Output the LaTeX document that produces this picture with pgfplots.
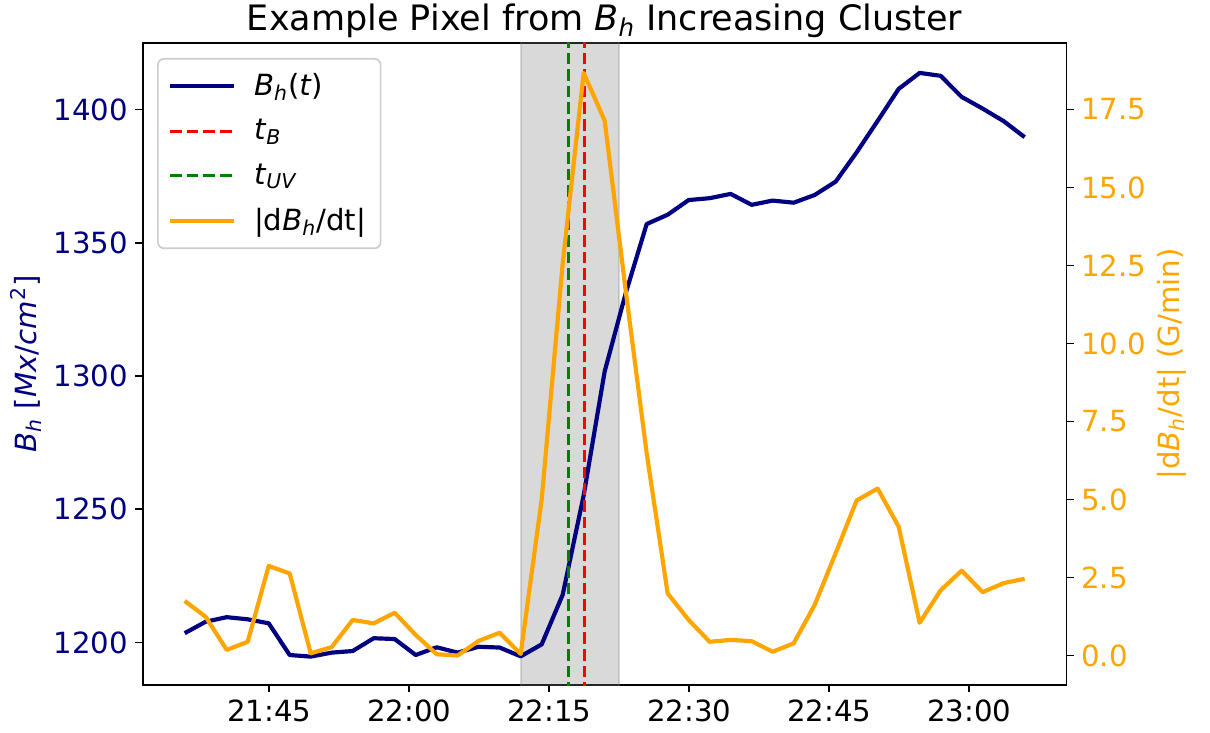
\documentclass[border=0pt]{standalone}
\usepackage{fontspec}
\setmainfont{DejaVu Sans}
\usepackage{pgfplots}
\usepackage{pgfplotstable}
\pgfplotsset{compat=1.18}
\definecolor{navy}{RGB}{0,0,128}
\definecolor{mplorange}{RGB}{255,165,0}
\definecolor{mplgreen}{RGB}{0,128,0}
\definecolor{mplred}{RGB}{255,0,0}
\definecolor{legedge}{RGB}{204,204,204}
\newcommand{\Bh}{\textit{B}\textsubscript{\textit{h}}}
\newcommand{\lgap}{\hspace*{6.5pt}}

% t = minutes after 21:00
\pgfplotstableread{
t      bh      dbdt
35.94  1203.5  1.75
38.19  1207.8  1.24
40.44  1209.5  0.18
42.69  1208.7  0.44
44.94  1207.2  2.87
47.19  1195.3  2.63
49.44  1194.7  0.07
51.69  1196.2  0.27
53.94  1196.8  1.14
56.19  1201.6  1.03
58.44  1201.3  1.37
60.69  1195.3  0.66
62.94  1198.2  0.04
65.19  1196.2  0.00
67.44  1198.4  0.47
69.69  1198.1  0.73
71.94  1194.8  0.05
74.19  1199.3  5.00
76.44  1217.9  12.56
78.69  1255.2  18.67
80.94  1301.7  17.14
83.19  1331.0  11.70
85.44  1357.0  6.48
87.69  1360.5  1.99
89.94  1366.0  1.14
92.19  1366.7  0.44
94.44  1368.3  0.50
96.69  1364.2  0.46
98.94  1365.8  0.12
101.19 1365.0  0.39
103.44 1367.9  1.62
105.69 1372.9  3.28
107.94 1383.9  4.97
110.19 1395.7  5.35
112.44 1407.7  4.13
114.69 1413.7  1.05
116.94 1412.6  2.09
119.19 1404.7  2.72
121.44 1400.3  2.03
123.69 1395.6  2.32
125.94 1389.6  2.46
}\datatable

\begin{document}
\begin{tikzpicture}[font=\fontsize{14}{16.8}\selectfont]
\useasboundingbox (-68.5pt,-23pt) rectangle (512.3pt,328.8pt);
\begin{axis}[
  at={(0,0)}, anchor=south west,
  scale only axis, width=443.5pt, height=308.2pt,
  xmin=31.44, xmax=130.44,
  ymin=1184.05, ymax=1424.95,
  xtick={45,60,75,90,105,120},
  xticklabels={21:45,22:00,22:15,22:30,22:45,23:00},
  ytick={1200,1250,1300,1350,1400},
  xtick pos=left, ytick pos=left,
  tick align=outside, major tick length=3.5pt,
  tick style={black, line width=0.8pt},
  axis line style={line width=0.8pt},
  yticklabel style={text=navy},
  /pgf/number format/set thousands separator={},
  /pgf/number format/assume math mode=true,
  title={Example Pixel from \Bh\ Increasing Cluster},
  title style={at={(0.5,1)}, anchor=base, font=\fontsize{16.8}{20}\selectfont},
  ylabel={\Bh\ [\textit{Mx}/\textit{cm}\textsuperscript{2}]},
  ylabel style={at={(axis description cs:-0.126,0.5)}, anchor=center, text=navy},
]
\addplot [draw=gray, draw opacity=0.3, fill=gray, fill opacity=0.3, line width=1pt, forget plot]
  coordinates {(71.97,1100) (71.97,1500) (82.47,1500) (82.47,1100)} -- cycle;
\addplot [navy, line width=2pt, line join=round] table [x=t, y=bh] {\datatable};
\addplot [mplred, line width=1.5pt, dash pattern=on 5.55pt off 2.4pt] coordinates {(78.75,1100) (78.75,1500)};
\addplot [mplgreen, line width=1.5pt, dash pattern=on 5.55pt off 2.4pt] coordinates {(77.1,1100) (77.1,1500)};
\end{axis}
\begin{axis}[
  at={(0,0)}, anchor=south west,
  scale only axis, width=443.5pt, height=308.2pt,
  xmin=31.44, xmax=130.44,
  ymin=-0.945, ymax=19.63,
  axis x line=none, axis y line*=right,
  ytick={0,2.5,5,7.5,10,12.5,15,17.5},
  ytick pos=right,
  tick align=outside, major tick length=3.5pt,
  tick style={black, line width=0.8pt},
  axis line style={line width=0.8pt},
  yticklabel style={text=mplorange, /pgf/number format/fixed, /pgf/number format/fixed zerofill, /pgf/number format/precision=1},
  /pgf/number format/assume math mode=true,
  ylabel={|d\Bh/dt| (G/min)},
  ylabel style={at={(axis description cs:1.114,0.5)}, anchor=center, text=mplorange},
  legend cell align=left,
  legend image code/.code={\draw[#1] (0pt,0pt) -- (30.7pt,0pt);},
  legend style={at={(0.0155,0.9766)}, anchor=north west, draw=legedge, line width=0.8pt,
    fill=white, fill opacity=0.8, text opacity=1, rounded corners=3pt,
    inner xsep=5pt, inner ysep=5pt, row sep=6pt},
]
\addlegendimage{navy, line width=2pt}
\addlegendentry{\lgap\Bh(\textit{t})}
\addlegendimage{mplred, line width=1.5pt, dash pattern=on 5.55pt off 2.4pt}
\addlegendentry{\lgap\textit{t}\textsubscript{\textit{B}}}
\addlegendimage{mplgreen, line width=1.5pt, dash pattern=on 5.55pt off 2.4pt}
\addlegendentry{\lgap\textit{t}\textsubscript{\textit{UV}}}
\addplot [mplorange, line width=2pt, line join=round] table [x=t, y=dbdt] {\datatable};
\addlegendentry{\lgap|d\Bh/dt|}
\end{axis}
\end{tikzpicture}
\end{document}
